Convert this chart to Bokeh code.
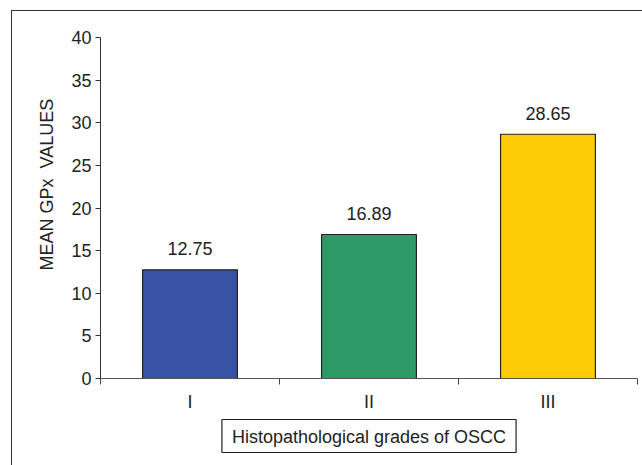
from bokeh.plotting import figure
from bokeh.models import (ColumnDataSource, Range1d, FixedTicker, Title,
                          InlineStyleSheet)
from bokeh.core.properties import value
from bokeh.embed import file_html
from bokeh.resources import INLINE

categories = ["I", "II", "III"]
values = [12.75, 16.89, 28.65]
colors = ["#3953A4", "#2E9A68", "#FCCB06"]
y_ticks = [0, 5, 10, 15, 20, 25, 30, 35, 40]
y_title = "MEAN GPx \u00a0VALUES"
x_title = "Histopathological grades of OSCC"

FONT = "Liberation Sans"
FS = "18px"

xs = [i + 0.5 for i in range(len(categories))]
src = ColumnDataSource(dict(x=xs, top=values, color=colors,
                            label=["%.2f" % v for v in values]))

p = figure(width=642, height=465, output_backend="svg", toolbar_location=None,
           x_range=Range1d(0, len(categories)), y_range=Range1d(0, 40),
           min_border_left=100, min_border_right=5, min_border_top=37,
           min_border_bottom=87)
p.outline_line_color = None
p.xgrid.visible = False
p.ygrid.visible = False
p.background_fill_color = "white"
p.border_fill_color = "white"

p.vbar(x="x", top="top", width=0.53, fill_color="color", line_color="#222222",
       line_width=1.2, source=src)
p.text(x="x", y="top", text="label", source=src, text_align="center",
       text_baseline="alphabetic", y_offset=-21, text_font=value(FONT),
       text_font_size=value(FS), text_color="#222222")

# y axis
ya = p.yaxis[0]
ya.ticker = FixedTicker(ticks=y_ticks)
ya.major_tick_out = 5
ya.major_tick_in = 0
ya.minor_tick_line_color = None
ya.major_label_standoff = 4
ya.major_label_text_font = FONT
ya.major_label_text_font_size = FS
ya.major_label_text_color = "#222222"
ya.axis_line_color = "#333333"
ya.major_tick_line_color = "#333333"

# x axis
xa = p.xaxis[0]
xa.ticker = FixedTicker(ticks=xs, minor_ticks=list(range(len(categories) + 1)))
xa.major_label_overrides = {x: c for x, c in zip(xs, categories)}
xa.major_tick_line_color = None
xa.major_tick_out = 0
xa.major_tick_in = 0
xa.minor_tick_out = 6
xa.minor_tick_in = 0
xa.minor_tick_line_color = "#444444"
xa.major_label_standoff = 7
xa.major_label_text_font = FONT
xa.major_label_text_font_size = FS
xa.major_label_text_color = "#222222"
xa.axis_line_color = "#555555"

p.add_layout(Title(text=y_title, align="left", offset=108, standoff=24,
                   text_font=FONT, text_font_size=FS, text_font_style="normal",
                   text_color="#222222"), "left")
p.add_layout(Title(text=x_title, align="center", standoff=6,
                   text_font=FONT, text_font_size=FS, text_font_style="normal",
                   text_color="#222222", border_line_color="#222222",
                   border_line_width=1.2, background_fill_color="white",
                   padding=dict(left=10, right=10, top=7, bottom=6)), "below")

p.stylesheets = [InlineStyleSheet(css="""
:host { position: relative; }
:host::after { content: ""; position: absolute; left: 11px; top: 10px;
  width: 800px; height: 600px; border-left: 1.5px solid #333;
  border-top: 1.5px solid #333; pointer-events: none; }
""")]

open("out.html", "w").write(file_html(p, INLINE))
